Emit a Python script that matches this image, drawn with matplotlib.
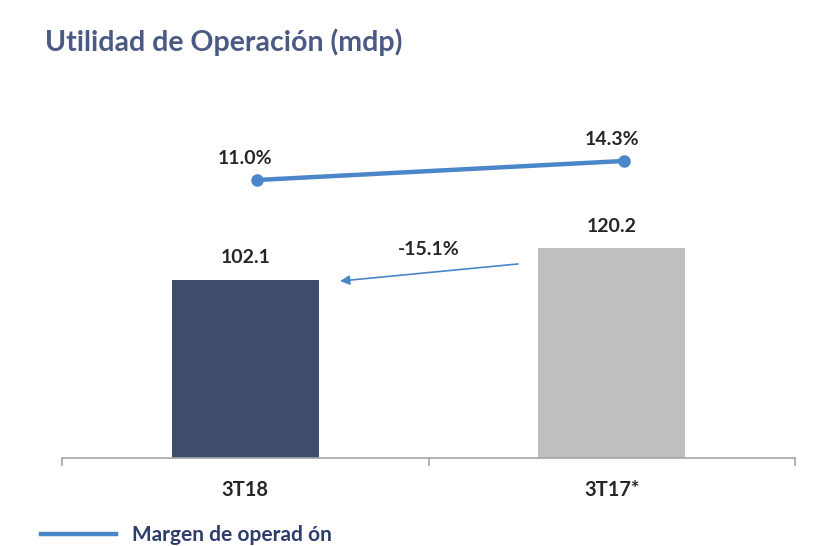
import matplotlib
matplotlib.use("Agg")
import matplotlib.pyplot as plt
import matplotlib.transforms as mtransforms
from matplotlib.lines import Line2D

categories = ["3T18", "3T17*"]
utilidad = [102.1, 120.2]
margen = [11.0, 14.3]
bar_colors = ["#3e4c6e", "#bfbfbf"]
title = "Utilidad de Operación (mdp)"
legend_label = "Margen de operad ón"

plt.rcParams['font.family'] = ['Lato', 'DejaVu Sans']

fig = plt.figure(figsize=(8.33, 5.46), dpi=100)
fig.patch.set_facecolor("white")
ax = fig.add_axes([62/833, 88/546, 733/833, 398/546])
x = list(range(len(categories)))
ax.bar(x, utilidad, width=0.4, color=bar_colors, zorder=2)
ax.set_xlim(-0.5, 1.5)
ax.set_ylim(0, 228.3)
for s in ["top", "right", "left"]:
    ax.spines[s].set_visible(False)
ax.spines["bottom"].set_color("#a6a6a6")
ax.spines["bottom"].set_linewidth(1.2)
ax.set_yticks([])
ax.set_xticks(x)
ax.set_xticklabels(categories, fontsize=14.5, fontweight="bold", color="#262626")
ax.tick_params(axis="x", which="major", length=0, pad=16)
ax.set_xticks([-0.5, 0.5, 1.5], minor=True)
ax.tick_params(axis="x", which="minor", length=6, color="#a6a6a6", width=1.2, direction="out")

for xi, v in zip(x, utilidad):
    ax.annotate(f"{v:.1f}", (xi, v), xytext=(0, 10), textcoords="offset points",
                ha="center", va="bottom", fontsize=14, fontweight="bold", color="#262626")

# change arrow
pct = (utilidad[0] / utilidad[1] - 1) * 100
ax.annotate("", xy=(0.2585, 101.5), xytext=(0.744, 111.3),
            arrowprops=dict(arrowstyle="-|>", color="#4a86c8", lw=1.2,
                            mutation_scale=14, shrinkA=0, shrinkB=0))
ax.text(0.5, 114.5, f"{pct:.1f}%", ha="center", va="bottom", fontsize=14,
        fontweight="bold", color="#262626")

ax2 = ax.twinx()
ax2.set_ylim(-37.26, 31.83)
ax2.axis("off")
off = mtransforms.offset_copy(ax2.transData, fig=fig, x=12, y=0, units="dots")
ax2.plot(x, margen, color="#4a86c8", lw=3.2, marker="o", ms=8, transform=off,
         solid_capstyle="round", zorder=3)
for xi, v in zip(x, margen):
    ax2.annotate(f"{v:.1f}%", (xi, v), xytext=(0, 9), textcoords="offset points",
                 ha="center", va="bottom", fontsize=14, fontweight="bold", color="#262626")

fig.text(45/833, 1 - 42/546, title, ha="left", va="center", fontsize=20.5,
         fontweight="bold", color="#4b5a84")

handle = Line2D([], [], color="#4a86c8", lw=3.2)
fig.legend([handle], [legend_label], loc="center left", bbox_to_anchor=(22/833, 1 - 535/546),
           frameon=False, prop=dict(size=15, weight="bold"), handlelength=3.6, handletextpad=0.8,
           labelcolor="#2e3d6b")

fig.savefig("out.png", dpi=100, facecolor="white")
